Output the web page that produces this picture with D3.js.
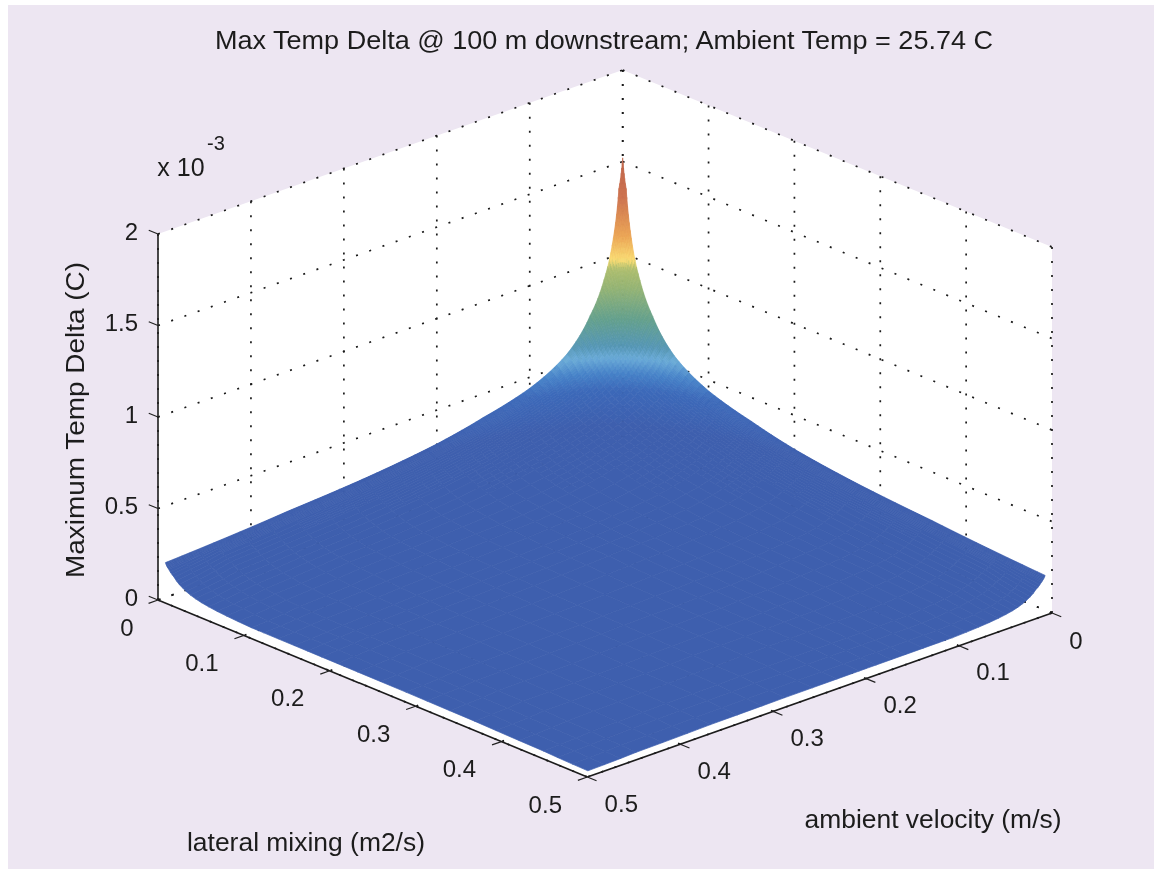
<!DOCTYPE html>
<html><head><meta charset="utf-8">
<script src="https://cdn.jsdelivr.net/npm/d3@7/dist/d3.min.js"></script>
<style>html,body{margin:0;padding:0;background:#fff;overflow:hidden}
svg{display:block}
text{font-family:"Liberation Sans",Arial,sans-serif;fill:#1c1c1c}</style>
</head><body><svg id="c" width="1154" height="869"></svg>
<script>
const titleText = "Max Temp Delta @ 100 m downstream; Ambient Temp = 25.74 C";
const lateralLabel = "lateral mixing (m2/s)";
const velocityLabel = "ambient velocity (m/s)";
const zLabel = "Maximum Temp Delta (C)";
const horizTicks = [0, 0.1, 0.2, 0.3, 0.4, 0.5];
const zTicks = [0, 0.5, 1, 1.5, 2];
// sample positions on both horizontal axes
const gridPos = [0, .004, .01, .02, .035, .06, .1, .15, .2, .28, .36, .44, .492];
// temperature delta (x 10^-3 C), rows = lateral mixing, columns = ambient velocity
const zRows = [
[1.52,1.36,1.10,.89,.72,.555,.44,.37,.315,.265,.235,.205,.19],
[1.36,1.20,1.02,.84,.69,.54,.43,.36,.31,.26,.225,.19,.16],
[1.10,1.02,.89,.76,.63,.50,.41,.34,.29,.24,.205,.17,.13],
[.89,.84,.76,.65,.55,.45,.37,.30,.25,.20,.17,.14,.09],
[.72,.69,.63,.55,.47,.39,.32,.26,.21,.16,.13,.10,.06],
[.555,.54,.50,.45,.39,.33,.26,.20,.16,.12,.10,.07,.04],
[.44,.43,.41,.37,.32,.26,.20,.15,.12,.10,.08,.05,.028],
[.37,.36,.34,.30,.26,.20,.15,.12,.10,.08,.065,.045,.027],
[.315,.31,.29,.25,.21,.16,.12,.10,.09,.07,.055,.045,.026],
[.265,.26,.24,.20,.16,.12,.10,.08,.07,.06,.05,.04,.024],
[.235,.225,.205,.17,.13,.10,.08,.065,.055,.05,.04,.035,.02],
[.205,.19,.17,.14,.10,.07,.05,.045,.045,.04,.035,.025,.012],
[.19,.16,.13,.09,.06,.04,.028,.027,.026,.024,.02,.012,.004]];
const colorZ = [0,.3,.41,.47,.53,.58,.70,.85,.94,.98,1.1,1.3,1.52];
const colorC = ["#3e5fae","#3e5fae","#3c69b9","#4682c8","#69aad7","#5596b4","#64a08c","#96b473","#afbe6e","#fadc73","#eba555","#cd7350","#be644b"];

const svg = d3.select("#c");
const lX = d3.scaleLinear([0,.5],[0,429.3]), lY = d3.scaleLinear([0,.5],[0,177]);
const vX = d3.scaleLinear([0,.5],[0,-464.7]), vY = d3.scaleLinear([0,.5],[0,164]);
const zS = d3.scaleLinear([0,2],[0,-366]);
const ox = 622.7, oy = 436;
const P = (l,v,z) => [ox+lX(l)+vX(v), oy+lY(l)+vY(v)+zS(z)];
const color = d3.scaleLinear(colorZ,colorC).interpolate(d3.interpolateRgb);
const line = d3.line();

svg.append("rect").attr("x",8).attr("y",5).attr("width",1146).attr("height",864).attr("fill","#ede6f2");
const root = svg.append("g").style("filter","blur(0.55px)");

// white box faces
root.append("path").attr("fill","#fff").attr("d",line([P(0,.5,2),P(0,0,2),P(.5,0,2),P(.5,0,0),P(.5,.5,0),P(0,.5,0)])+"Z");

// dotted grid
const grid = [];
horizTicks.forEach(t=>{
  grid.push([P(0,t,0),P(0,t,2)]);
  grid.push([P(t,0,0),P(t,0,2)]);
  grid.push([P(t,0,0),P(t,.5,0)]);
  grid.push([P(0,t,0),P(.5,t,0)]);
});
zTicks.forEach(z=>{
  grid.push([P(0,.5,z),P(0,0,z)]);
  grid.push([P(0,0,z),P(.5,0,z)]);
});
root.append("g").selectAll("path").data(grid).join("path")
  .attr("d",d=>line(d)).attr("fill","none").attr("stroke","#1a1a1a")
  .attr("stroke-width",1.7).attr("stroke-dasharray","2 12");

// surface: each table cell is shaded between its four readings (geometric spacing, matching the horn)
const c0 = .003;
const posAt = (i,a) => Math.pow(gridPos[i]+c0,1-a)*Math.pow(gridPos[i+1]+c0,a)-c0;
const zAt = (i,j,a,b) => Math.exp((1-a)*(1-b)*Math.log(zRows[i][j])+a*(1-b)*Math.log(zRows[i+1][j])+(1-a)*b*Math.log(zRows[i][j+1])+a*b*Math.log(zRows[i+1][j+1]));
const quads = [];
d3.range(gridPos.length-1).forEach(i=>d3.range(gridPos.length-1).forEach(j=>{
  const n = (i+j<12) ? 6 : 3;
  d3.range(n).forEach(p=>d3.range(n).forEach(q=>{
    const c = [[p/n,q/n],[(p+1)/n,q/n],[(p+1)/n,(q+1)/n],[p/n,(q+1)/n]];
    const pts = c.map(([a,b])=>({l:posAt(i,a),v:posAt(j,b),z:zAt(i,j,a,b)}));
    quads.push({pts, key:d3.mean(pts,d=>d.l+d.v), z:d3.mean(pts,d=>d.z)});
  }));
}));
quads.sort((a,b)=>a.key-b.key);
root.append("g").selectAll("path").data(quads).join("path")
  .attr("d",d=>line(d.pts.map(s=>P(s.l,s.v,s.z)))+"Z")
  .attr("fill",d=>color(d.z)).attr("stroke",d=>color(d.z)).attr("stroke-width",.7).attr("stroke-linejoin","round");

// solid axes
const axisPts = [[P(0,.5,2),P(0,.5,0)],[P(0,.5,0),P(.5,.5,0)],[P(.5,.5,0),P(.5,0,0)]];
root.append("g").selectAll("path").data(axisPts).join("path").attr("d",d=>line(d))
  .attr("fill","none").attr("stroke","#1c1c1c").attr("stroke-width",1.6);

// ticks
const tickLen = 10;
const unit = (dx,dy)=>{const m=Math.hypot(dx,dy);return [dx/m*tickLen,dy/m*tickLen];};
const tL = unit(vX(.5),vY(.5)), tV = unit(lX(.5),lY(.5)), tZ = [-tV[0],-tV[1]];
const ticks = [];
horizTicks.forEach(t=>{
  const a=P(t,.5,0); ticks.push([a,[a[0]+tL[0],a[1]+tL[1]]]);
  const b=P(.5,t,0); ticks.push([b,[b[0]+tV[0],b[1]+tV[1]]]);
});
zTicks.forEach(z=>{const a=P(0,.5,z); ticks.push([a,[a[0]+tZ[0],a[1]+tZ[1]]]);});
root.append("g").selectAll("path").data(ticks).join("path").attr("d",d=>line(d))
  .attr("fill","none").attr("stroke","#222").attr("stroke-width",1.2);

// text
const fs = 24;
function label(x,y,s,anchor="middle",size=fs,rot=0,len=0){
  const t = root.append("text").attr("x",x).attr("y",y).attr("text-anchor",anchor)
    .attr("dominant-baseline","central").attr("font-size",size).text(s);
  if(len) t.attr("textLength",len).attr("lengthAdjust","spacingAndGlyphs");
  if(rot) t.attr("transform",`rotate(${rot} ${x} ${y})`);
  return t;
}
label(604,40,titleText,"middle",25,0,778);
horizTicks.forEach(t=>{
  const a=P(t,.5,0); label(a[0]+(t===0?-31:-42),a[1]+27,String(t));
  const b=P(.5,t,0); label(b[0]+(t===0?24:34),b[1]+(t===0?27:26),String(t));
});
zTicks.forEach(z=>{const a=P(0,.5,z); label(138,a[1]-3,String(z),"end");});
label(181,167,"x 10","middle",25);
label(216,143,"-3","middle",20);
label(306,842,lateralLabel,"middle",25,0,238);
label(933,819,velocityLabel,"middle",25,0,257);
label(75,420,zLabel,"middle",25,-90,316);
</script></body></html>
